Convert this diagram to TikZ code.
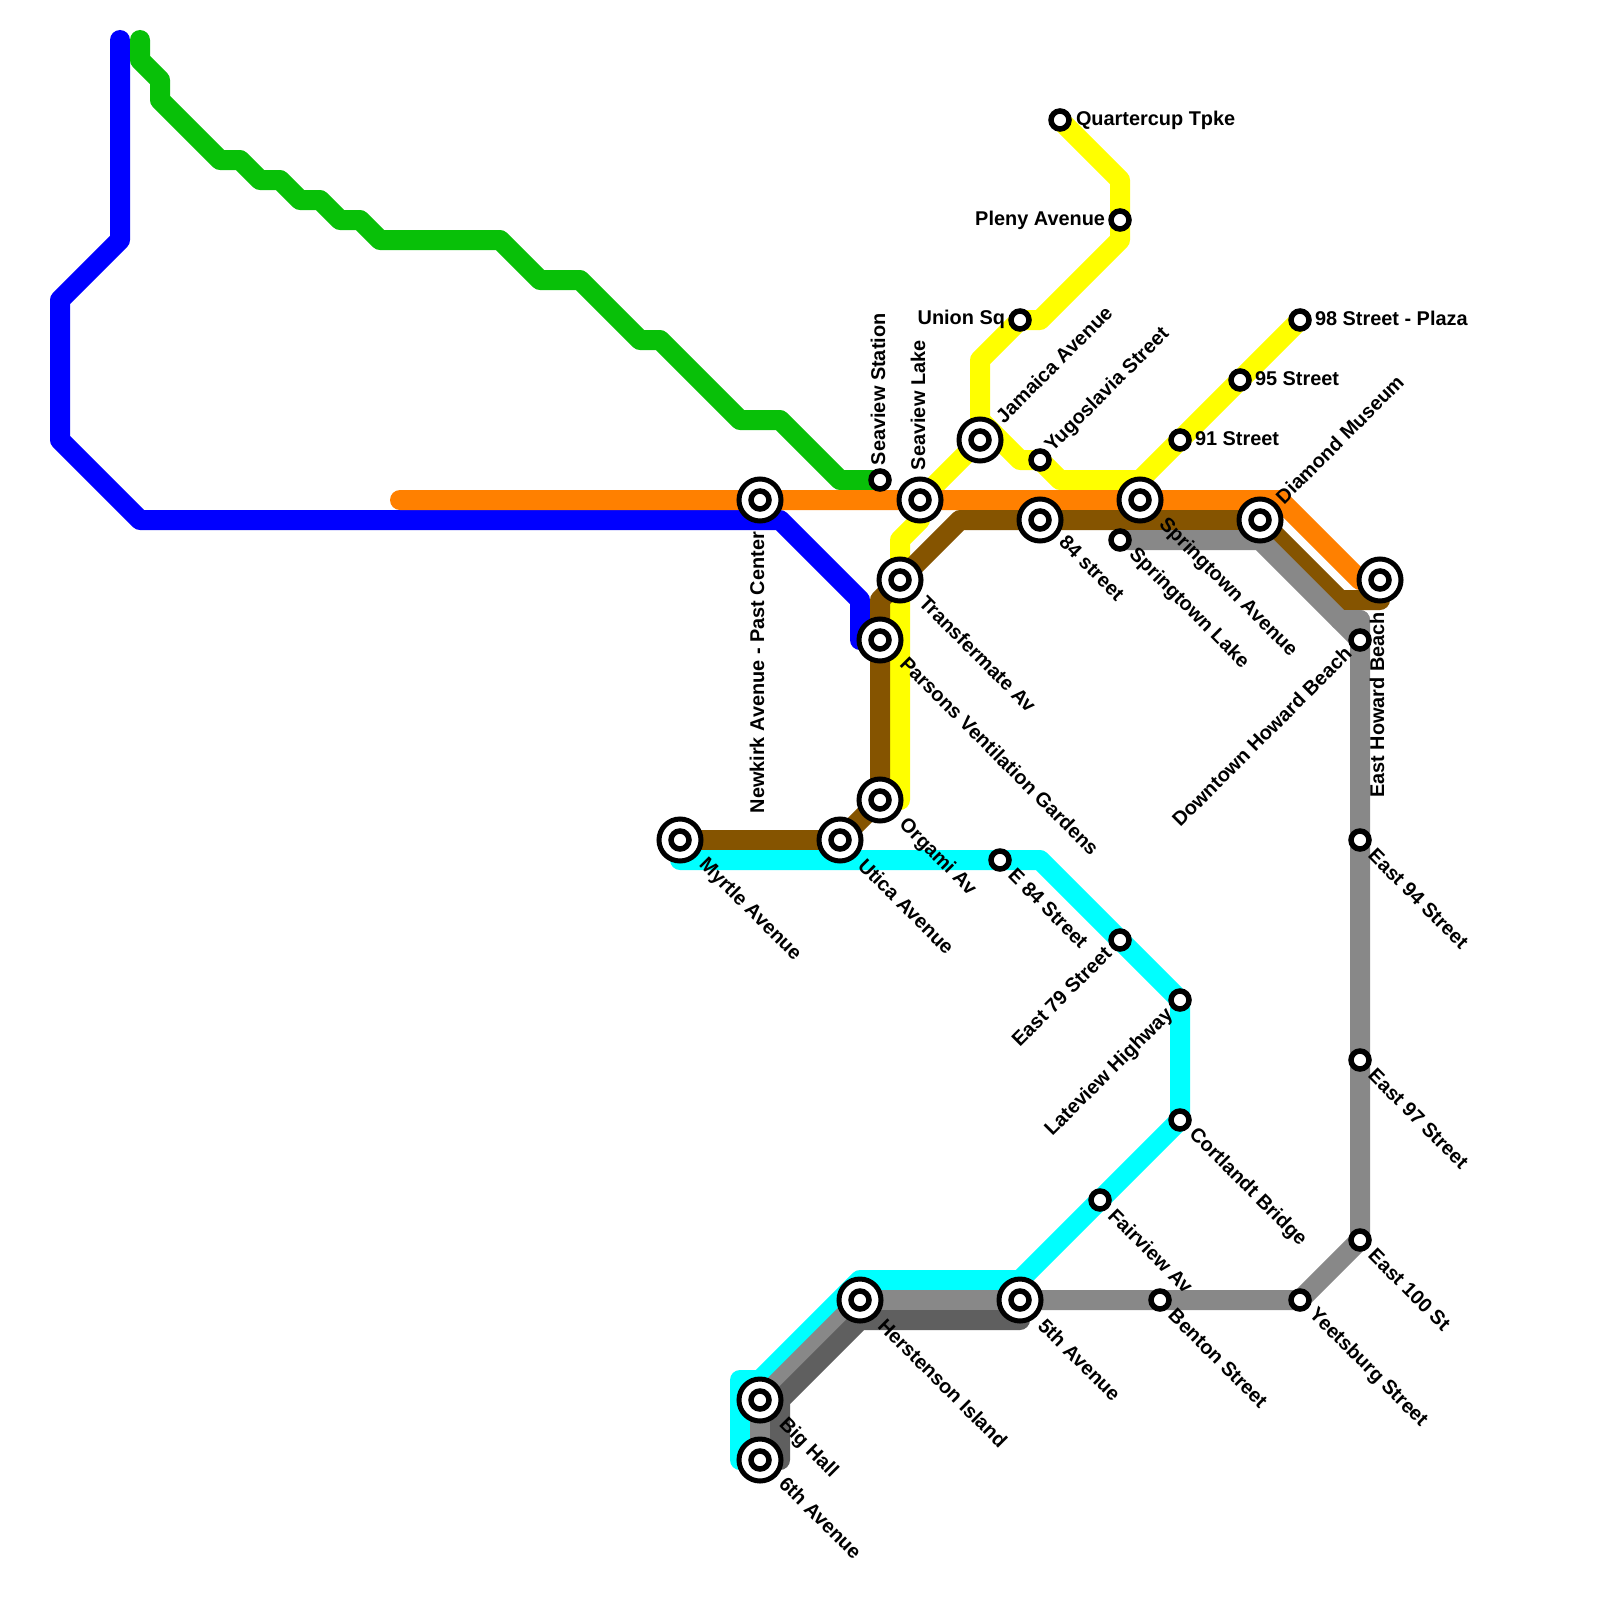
\documentclass[tikz,border=0pt]{standalone}
\usepackage{fontspec}
\setmainfont{Liberation Sans}
\pgfdeclarelayer{lines}
\pgfsetlayers{lines,main}
\definecolor{cBlue}{HTML}{0000FF}
\definecolor{cGreen}{HTML}{08C008}
\definecolor{cOrange}{HTML}{FF8000}
\definecolor{cYellow}{HTML}{FFFF00}
\definecolor{cBrown}{HTML}{855400}
\definecolor{cCyan}{HTML}{00FFFF}
\definecolor{cGray}{HTML}{888888}
\definecolor{cDark}{HTML}{5F5F5F}
\tikzset{
  route/.style={line width=20pt,line cap=round,line join=round},
  stn/.style={circle,draw=black,fill=white,line width=5.5pt,minimum size=18pt,inner sep=0pt,outer sep=0pt},
  hub/.style={circle,draw=black,fill=white,line width=5pt,minimum size=42pt,inner sep=0pt,outer sep=0pt},
  hubcore/.style={circle,draw=black,fill=white,line width=5.5pt,minimum size=18pt,inner sep=0pt,outer sep=0pt},
  lbl/.style={font=\fontsize{19.9}{22}\selectfont\bfseries,inner sep=0pt,outer sep=0pt,text=black},
  dn/.style={lbl,rotate=-45,anchor=west},
  up/.style={lbl,rotate=45,anchor=west},
  lup/.style={lbl,rotate=45,anchor=east},
  vert/.style={lbl,rotate=90,anchor=west},
  vertend/.style={lbl,rotate=90,anchor=east},
  rt/.style={lbl,anchor=west},
  lf/.style={lbl,anchor=east}
}
\newcommand{\hubat}[2]{\node[hub] (#1) at (#2) {};\node[hubcore] (#1c) at (#2) {};}
\begin{document}
\begin{tikzpicture}[x=1pt,y=-1pt]
\useasboundingbox (0,0) rectangle (1600,1600);
% interchange stations
\hubat{newkirk}{760,500}
\hubat{seaLake}{920,500}
\hubat{jamaica}{980,440}
\hubat{eightyfour}{1040,520}
\hubat{springAve}{1140,500}
\hubat{diamond}{1260,520}
\hubat{endHub}{1380,580}
\hubat{transf}{900,580}
\hubat{parsons}{880,640}
\hubat{orgami}{880,800}
\hubat{utica}{840,840}
\hubat{myrtle}{680,840}
\hubat{herst}{860,1300}
\hubat{fifth}{1020,1300}
\hubat{bighall}{760,1400}
\hubat{sixth}{760,1460}
% simple stations
\node[stn] (quarter) at (1060,120) {};
\node[stn] (pleny) at (1120,220) {};
\node[stn] (union) at (1020,320) {};
\node[stn] (plaza) at (1300,320) {};
\node[stn] (st95) at (1240,380) {};
\node[stn] (st91) at (1180,440) {};
\node[stn] (yugo) at (1040,460) {};
\node[stn] (seaStn) at (880,480) {};
\node[stn] (springLake) at (1120,540) {};
\node[stn] (howard) at (1360,640) {};
\node[stn] (e94) at (1360,840) {};
\node[stn] (e84) at (1000,860) {};
\node[stn] (e79) at (1120,940) {};
\node[stn] (late) at (1180,1000) {};
\node[stn] (e97) at (1360,1060) {};
\node[stn] (cort) at (1180,1120) {};
\node[stn] (fair) at (1100,1200) {};
\node[stn] (e100) at (1360,1240) {};
\node[stn] (benton) at (1160,1300) {};
\node[stn] (yeets) at (1300,1300) {};
% free ends
\coordinate (blueTop) at (120,40);
\coordinate (greenTop) at (140,40);
\coordinate (orangeEnd) at (400,500);
\coordinate (yellowEnd) at (900,800);
\coordinate (cyanStart) at (680,860);
\coordinate (cyanEnd) at (740,1460);
\coordinate (darkEnd) at (1020,1320);
\coordinate (darkFoot) at (780,1460);
\coordinate (brownEnd) at (1380,600);
\coordinate (blueEnd) at (860,640);
\begin{pgfonlayer}{lines}
\fill[white] (0,0) rectangle (1600,1600);
\draw[route,cBlue] (blueTop) -- (120,240) -- (60,300) -- (60,440) -- (140,520) -- (780,520) -- (860,600) -- (blueEnd);
\draw[route,cGreen] (greenTop) -- (140,60) -- (160,80) -- (160,100) -- (220,160) -- (240,160) -- (260,180) -- (280,180) -- (300,200) -- (320,200) -- (340,220) -- (360,220) -- (380,240) -- (500,240) -- (540,280) -- (580,280) -- (640,340) -- (660,340) -- (740,420) -- (780,420) -- (840,480) -- (seaStn.center);
\draw[route,cYellow] (quarter.center) -- (1120,180) -- (pleny.center) -- (1120,240) -- (1040,320) -- (union.center) -- (980,360) -- (jamaica.center) -- (seaLake.center) -- (920,520) -- (900,540) -- (yellowEnd);
\draw[route,cYellow] (980,420) -- (1020,460) -- (yugo.center) -- (1060,480) -- (1140,480) -- (st91.center) -- (st95.center) -- (plaza.center);
\draw[route,cOrange] (orangeEnd) -- (newkirk.center) -- (seaLake.center) -- (springAve.center) -- (1280,500) -- (1360,580) -- (endHub.center);
\draw[route,cBrown] (myrtle.center) -- (utica.center) -- (orgami.center) -- (parsons.center) -- (880,600) -- (transf.center) -- (960,520) -- (eightyfour.center) -- (diamond.center) -- (1340,600) -- (brownEnd);
\draw[route,cCyan] (cyanStart) -- (e84.center) -- (1040,860) -- (e79.center) -- (late.center) -- (cort.center) -- (fair.center) -- (1020,1280) -- (860,1280) -- (760,1380) -- (740,1380) -- (cyanEnd);
\draw[route,cGray] (springLake.center) -- (1260,540) -- (howard.center) -- (1360,620);
\draw[route,cGray] (1340,620) -- (1360,620);
\draw[route,cGray] (howard.center) -- (e94.center) -- (e97.center) -- (e100.center) -- (yeets.center) -- (benton.center) -- (fifth.center) -- (herst.center) -- (bighall.center) -- (sixth.center);
\draw[route,cDark] (darkEnd) -- (860,1320) -- (780,1400) -- (darkFoot);
\end{pgfonlayer}
% labels
\node[rt] (lQuarter) at (1076,120) {Quartercup Tpke};
\node[rt] (lPlaza) at (1315,318) {98 Street - Plaza};
\node[rt] (l95) at (1255,379) {95 Street};
\node[rt] (l91) at (1195,439) {91 Street};
\node[lf] (lPleny) at (1105,220) {Pleny Avenue};
\node[lf] (lUnion) at (1005,319) {Union Sq};
\node[up] (lJam) at (999,419) {Jamaica Avenue};
\node[up] (lYugo) at (1049,449) {Yugoslavia Street};
\node[up] (lDia) at (1279,500) {Diamond Museum};
\node[vert] (lSeaStn) at (878,465) {Seaview Station};
\node[vert] (lSeaLake) at (918,470) {Seaview Lake};
\node[vertend] (lNew) at (757,532) {Newkirk Avenue - Past Center};
\node[vertend] (lEHB) at (1377,612) {East Howard Beach};
\node[lup] (lDown) at (1348,650) {Downtown Howard Beach};
\node[lup] (lE79) at (1108,950) {East 79 Street};
\node[lup] (lLate) at (1170,1012) {Lateview Highway};
\node[dn] (lMyrtle) at (702,862) {Myrtle Avenue};
\node[dn] (lUtica) at (862,862) {Utica Avenue};
\node[dn] (lOrgami) at (902,822) {Orgami Av};
\node[dn] (lParsons) at (904,660) {Parsons Ventilation Gardens};
\node[dn] (lTransf) at (923,599) {Transfermate Av};
\node[dn] (l84) at (1063,539) {84 street};
\node[dn] (lSpAve) at (1162,522) {Springtown Avenue};
\node[dn] (lSpLake) at (1132,552) {Springtown Lake};
\node[dn] (lE84) at (1012,872) {E 84 Street};
\node[dn] (lE94) at (1372,852) {East 94 Street};
\node[dn] (lE97) at (1372,1072) {East 97 Street};
\node[dn] (lE100) at (1372,1252) {East 100 St};
\node[dn] (lYeets) at (1312,1312) {Yeetsburg Street};
\node[dn] (lBenton) at (1172,1312) {Benton Street};
\node[dn] (lFair) at (1112,1212) {Fairview Av};
\node[dn] (lCort) at (1192,1132) {Cortlandt Bridge};
\node[dn] (l5th) at (1042,1322) {5th Avenue};
\node[dn] (lHerst) at (882,1322) {Herstenson Island};
\node[dn] (lBig) at (782,1422) {Big Hall};
\node[dn] (l6th) at (783,1480) {6th Avenue};
\end{tikzpicture}
\end{document}
